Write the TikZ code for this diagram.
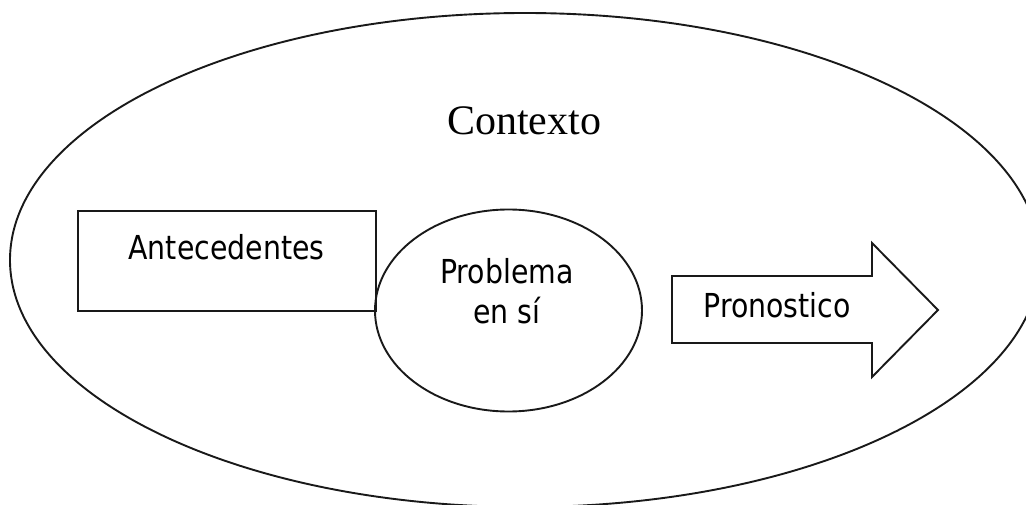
\documentclass[tikz,border=0pt]{standalone}
\usepackage{fontspec}
\setmainfont{Liberation Serif}
\newfontfamily\boxfont[FakeStretch=0.86]{DejaVu Sans}
\usetikzlibrary{shapes.geometric}
\tikzset{%
	context/.style  = {draw, ellipse, minimum width=1030pt, minimum height=494pt, inner sep=0pt}, % Outer ellipse
	block/.style    = {draw, rectangle, minimum width=298pt, minimum height=100pt, inner sep=0pt},
	problem/.style  = {draw, ellipse, minimum width=267pt, minimum height=202pt, inner sep=0pt},
	heading/.style  = {font=\fontsize{42}{48}\selectfont, inner sep=0pt, anchor=base},
	boxtext/.style  = {font=\boxfont\fontsize{33}{40}\selectfont, inner sep=0pt, anchor=base, align=center},
	bigarrow/.style = {draw, line join=miter},
}

\begin{document}
\begin{tikzpicture}[x=1pt, y=-1pt, line width=1.9pt, draw=black!90]
		\clip (0,0) rectangle (1026,505);
		\node [context] (ctx) at (525,260) {};
		\node [heading] (ctxtext) at (524,135) {Contexto};
		\node [block] (ante) at (227,261) {};
		\node [boxtext] (antetext) at (226.5,260) {Antecedentes};
		\node [problem] (prob) at (508.5,310.5) {};
		\node [boxtext, anchor=north] (probtext) at (507,257) {Problema\\en sí};
		\draw [bigarrow] (672,276) -- (872,276) -- (872,243) -- (938,310)
			-- (872,377) -- (872,343) -- (672,343) -- cycle;
		\node [boxtext] (pronotext) at (777,317) {Pronostico};
	\end{tikzpicture}
\end{document}
